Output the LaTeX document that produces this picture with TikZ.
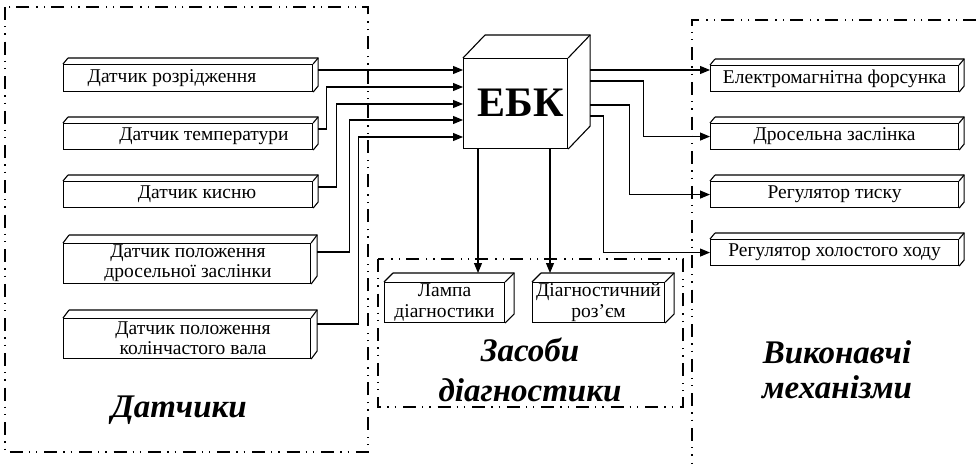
\documentclass[tikz,border=0pt]{standalone}
\usepackage{fontspec}
\setmainfont{Liberation Serif}
\usetikzlibrary{arrows.meta,calc}
\newcommand\cuboidfaces[3]{%
  \draw ($(#1.north west)+(#2,#3)$) -- ($(#1.north east)+(#2,#3)$) -- ($(#1.south east)+(#2,#3)$) -- (#1.south east);
  \draw (#1.north west) -- ($(#1.north west)+(#2,#3)$);
  \draw (#1.north east) -- ($(#1.north east)+(#2,#3)$);}
\begin{document}
\begin{tikzpicture}[x=1pt,y=-1pt,line width=1.1pt,
  box/.style={draw,fill=white,inner sep=0pt,anchor=north west,align=center,
              font=\fontsize{19.5}{20.5}\selectfont},
  lbl/.style={font=\fontsize{19.5}{20.5}\selectfont,align=center,inner sep=0pt},
  big/.style={font=\fontsize{33}{40}\selectfont\bfseries\itshape,align=center,inner sep=0pt},
  frame/.style={line width=1.3pt,dash pattern=on 13pt off 6pt on 1.3pt off 6pt on 1.3pt off 7pt},
  arr/.style={-{Triangle[length=10pt,width=8pt]}}]
\useasboundingbox (0,0) rectangle (976,463);
% frames
\draw[frame] (5,7) rectangle (368,452);
\draw[frame] (378,259) rectangle (683,407);
\draw[frame] (976,20) -| (692,475);
% sensors
\node[box,minimum width=249pt,minimum height=27pt] (s1) at (63,64) {};
\node[box,minimum width=249pt,minimum height=26pt] (s2) at (63,123) {};
\node[box,minimum width=249pt,minimum height=26pt] (s3) at (63,181) {};
\node[box,minimum width=247pt,minimum height=40pt] (s4) at (63,243) {};
\node[box,minimum width=247pt,minimum height=40pt] (s5) at (63,318) {};
\foreach \n in {s1,s2,s3}{\cuboidfaces{\n}{5}{-6}}
\foreach \n in {s4,s5}{\cuboidfaces{\n}{6}{-8}}
\node[lbl] (t1) at (172,78) {Датчик розрідження};
\node[lbl] (t2) at (204,136) {Датчик температури};
\node[lbl] (t3) at (197,194) {Датчик кисню};
\node[lbl] (t4) at (188,263) {Датчик положення\\дросельної заслінки};
\node[lbl] (t5) at (193,338) {Датчик положення\\колінчастого вала};
% ECU
\node[box,minimum width=104pt,minimum height=90pt] (e) at (463,58) {};
\cuboidfaces{e}{22}{-23}
\node[inner sep=0pt,font=\fontsize{42}{42}\selectfont\bfseries] (et) at (521,103) {ЕБК};
% actuators
\node[box,minimum width=248pt,minimum height=26pt] (a1) at (710,65) {Електромагнітна форсунка};
\node[box,minimum width=248pt,minimum height=26pt] (a2) at (710,123) {Дросельна заслінка};
\node[box,minimum width=248pt,minimum height=26pt] (a3) at (710,181) {Регулятор тиску};
\node[box,minimum width=248pt,minimum height=26pt] (a4) at (710,239) {Регулятор холостого ходу};
\foreach \n in {a1,a2,a3,a4}{\cuboidfaces{\n}{5}{-6}}
% diagnostics
\node[box,minimum width=120pt,minimum height=40pt] (d1) at (384,282) {Лампа\\діагностики};
\node[box,minimum width=132pt,minimum height=40pt] (d2) at (532,282) {Діагностичний\\роз’єм};
\foreach \n in {d1,d2}{\cuboidfaces{\n}{9}{-9}}
% sensor connectors
\draw[arr] ($(s1.north east)+(5,6)$) -- ($(e.north west)+(0,12)$);
\draw[arr] ($(s2.north east)+(5,6)$) -- ++(8,0) |- ($(e.north west)+(0,29)$);
\draw[arr] ($(s3.north east)+(5,6)$) -- ++(18,0) |- ($(e.north west)+(0,46)$);
\draw[arr] ($(s4.north east)+(6,9)$) -- ++(32,0) |- ($(e.north west)+(0,62)$);
\draw[arr] ($(s5.north east)+(6,6)$) -- ++(41,0) |- ($(e.north west)+(0,79)$);
% actuator connectors
\draw[arr] ($(e.north east)+(22,12)$) -- ($(a1.north west)+(0,5)$);
\draw[arr] ($(e.north east)+(22,23)$) -- ++(53,0) |- (a2.west);
\draw[arr] ($(e.north east)+(22,47)$) -- ++(39,0) |- (a3.west);
\draw[arr] ($(e.north east)+(22,58)$) -- ++(13,0) |- (a4.west);
% diagnostics connectors
\draw[arr] ($(e.south west)+(15,0)$) -- ($(d1.north west)+(94,-9)$);
\draw[arr] ($(e.south west)+(87,0)$) -- ($(d2.north west)+(18,-9)$);
% group labels
\node[big] (l1) at (179,410) {Датчики};
\node[big] (l2) at (530,370) {Засоби\\діагностики};
\node[big,font=\fontsize{33}{35}\selectfont\bfseries\itshape] (l3) at (837,370) {Виконавчі\\механізми};
\end{tikzpicture}
\end{document}
